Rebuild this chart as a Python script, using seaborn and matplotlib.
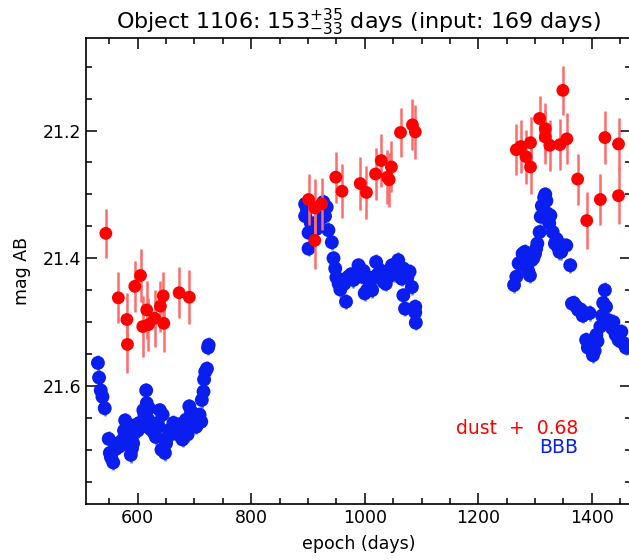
import numpy as np
import pandas as pd
import matplotlib
matplotlib.use("Agg")
import matplotlib.pyplot as plt
import seaborn as sns
from matplotlib.ticker import MultipleLocator

# ---------------- data ----------------
dust_epoch = [544, 566, 581, 582, 595, 605, 609, 616, 619, 630, 640, 645, 646, 673, 691,
              901, 912, 924, 912, 949, 960, 992, 1003, 1019, 1029, 1040, 1047, 1043, 1063, 1084, 1089,
              1267, 1275, 1284, 1292, 1292, 1308, 1318, 1318, 1326, 1344, 1356, 1349, 1375, 1391,
              1415, 1423, 1447, 1447]
dust_mag = [21.361, 21.462, 21.496, 21.535, 21.444, 21.427, 21.507, 21.481, 21.504, 21.494,
            21.475, 21.459, 21.502, 21.454, 21.461,
            21.308, 21.321, 21.315, 21.372, 21.273, 21.295, 21.283, 21.297, 21.268, 21.247,
            21.273, 21.257, 21.277, 21.203, 21.191, 21.202,
            21.230, 21.225, 21.241, 21.219, 21.257, 21.181, 21.197, 21.210, 21.223, 21.222,
            21.213, 21.137, 21.276, 21.341, 21.308, 21.211, 21.221, 21.302]
dust_err = [0.038, 0.040, 0.042, 0.045, 0.040, 0.042, 0.048, 0.045, 0.042, 0.045,
            0.040, 0.038, 0.045, 0.040, 0.042,
            0.040, 0.045, 0.040, 0.045, 0.040, 0.042, 0.042, 0.042, 0.040, 0.042,
            0.042, 0.040, 0.042, 0.038, 0.040, 0.042,
            0.040, 0.042, 0.042, 0.040, 0.042, 0.035, 0.040, 0.042, 0.040, 0.040,
            0.040, 0.038, 0.040, 0.045, 0.040, 0.042, 0.040, 0.045]

bbb_epoch = [530, 532, 535, 538, 542, 549, 551, 557, 559, 565, 568, 574, 576, 578, 583,
             585, 588, 592, 594, 597, 600, 603, 607, 610, 615, 616, 620, 625, 629, 632,
             635, 639, 644, 648, 650, 656, 660, 663, 668, 671, 675, 679, 683, 685, 691,
             696, 698, 703, 705, 712, 713, 716, 717, 719, 722, 724, 725,
             553, 562, 571, 580, 590, 605, 612, 618, 623, 637, 642, 653, 666, 677, 688, 694, 700, 709,
             895, 895, 901, 901, 915, 927, 930, 936, 942, 945, 948, 950, 954, 957, 960,
             967, 971, 980, 985, 989, 995, 998, 1000, 1004, 1009, 1013, 1015, 1020, 1024,
             1030, 1033, 1037, 1042, 1048, 1052, 1059, 1062, 1068, 1068, 1071, 1075, 1079,
             1083, 1089, 1089, 1090,
             898, 905, 920, 933, 964, 976, 992, 1006, 1027, 1045, 1056, 1065,
             1263, 1267, 1271, 1275, 1278, 1282, 1285, 1288, 1291, 1294, 1297, 1300, 1304,
             1308, 1310, 1314, 1316, 1318, 1320, 1322, 1327, 1331, 1335, 1338, 1343, 1346,
             1350, 1355, 1362, 1365, 1368, 1372, 1376, 1380, 1384, 1388, 1390, 1396, 1397,
             1402, 1405, 1410, 1415, 1418, 1423, 1425, 1429, 1433, 1438, 1442, 1447, 1450,
             1456, 1460,
             1280, 1302, 1312, 1325, 1340, 1393, 1408, 1420, 1436, 1452]
bbb_mag = [21.564, 21.587, 21.607, 21.617, 21.635, 21.683, 21.705, 21.720, 21.700, 21.690,
           21.695, 21.684, 21.670, 21.654, 21.660, 21.679, 21.708, 21.690, 21.674, 21.661,
           21.670, 21.658, 21.658, 21.638, 21.607, 21.627, 21.635, 21.660, 21.674, 21.680,
           21.658, 21.638, 21.645, 21.705, 21.690, 21.669, 21.670, 21.658, 21.675, 21.669,
           21.660, 21.684, 21.670, 21.653, 21.632, 21.648, 21.660, 21.664, 21.650, 21.656,
           21.622, 21.609, 21.590, 21.578, 21.573, 21.540, 21.536,
           21.712, 21.698, 21.688, 21.672, 21.698, 21.665, 21.645, 21.652, 21.668, 21.664,
           21.700, 21.680, 21.662, 21.672, 21.676, 21.640, 21.655, 21.645,
           21.315, 21.334, 21.360, 21.385, 21.354, 21.312, 21.334, 21.356, 21.375, 21.400,
           21.416, 21.430, 21.440, 21.449, 21.435, 21.468, 21.429, 21.434, 21.430, 21.411,
           21.429, 21.420, 21.455, 21.450, 21.440, 21.450, 21.430, 21.406, 21.424, 21.420,
           21.437, 21.440, 21.429, 21.411, 21.425, 21.403, 21.420, 21.416, 21.458, 21.479,
           21.430, 21.421, 21.445, 21.476, 21.485, 21.501,
           21.322, 21.345, 21.340, 21.320, 21.440, 21.425, 21.418, 21.432, 21.428, 21.418,
           21.408, 21.432,
           21.442, 21.429, 21.408, 21.410, 21.393, 21.390, 21.408, 21.420, 21.427, 21.403,
           21.400, 21.393, 21.377, 21.359, 21.335, 21.320, 21.305, 21.300, 21.310, 21.330,
           21.333, 21.359, 21.377, 21.370, 21.390, 21.390, 21.380, 21.380, 21.411, 21.471,
           21.470, 21.475, 21.481, 21.480, 21.490, 21.486, 21.528, 21.486, 21.533, 21.552,
           21.545, 21.530, 21.507, 21.490, 21.450, 21.476, 21.497, 21.500, 21.500, 21.520,
           21.528, 21.530, 21.533, 21.540,
           21.400, 21.385, 21.318, 21.345, 21.382, 21.540, 21.520, 21.470, 21.510, 21.515]
bbb_err = [0.012] * len(bbb_mag)

dust = pd.DataFrame({"epoch": dust_epoch, "mag": dust_mag, "err": dust_err})
bbb = pd.DataFrame({"epoch": bbb_epoch, "mag": bbb_mag, "err": bbb_err})

# ---------------- plot ----------------
sns.set_style("ticks")
plt.rcParams["font.family"] = ["DejaVu Sans"]
for k in ["text.color", "axes.labelcolor", "xtick.color", "ytick.color"]:
    plt.rcParams[k] = "black"

fig = plt.figure(figsize=(6.29, 5.6), dpi=100)
ax = fig.add_axes([86 / 629, 56 / 560, (631 - 86) / 629, (504 - 38) / 560])

ax.errorbar(bbb["epoch"], bbb["mag"], yerr=bbb["err"], fmt="none",
            ecolor="#5a78ff", elinewidth=1.8, zorder=2)
sns.scatterplot(data=bbb, x="epoch", y="mag", ax=ax, color="#0a1ef0",
                s=100, edgecolor="none", zorder=3, legend=False)
ax.errorbar(dust["epoch"], dust["mag"], yerr=dust["err"], fmt="none",
            ecolor="#ff6a6a", elinewidth=1.8, zorder=4)
sns.scatterplot(data=dust, x="epoch", y="mag", ax=ax, color="#ff0000",
                s=85, edgecolor="none", zorder=5, legend=False)

ax.set_xlim(509, 1469)
ax.set_ylim(21.785, 21.055)
ax.xaxis.set_major_locator(MultipleLocator(200))
ax.xaxis.set_minor_locator(MultipleLocator(50))
ax.set_yticks([21.2, 21.4, 21.6])
ax.yaxis.set_minor_locator(MultipleLocator(0.05))
ax.tick_params(which="both", direction="in", top=True, right=True, color="black",
               labelsize=12.5, width=1.1)
ax.tick_params(which="major", length=8)
ax.tick_params(which="minor", length=4.5)
for sp in ax.spines.values():
    sp.set_linewidth(1.2)
    sp.set_color("black")

ax.set_xlabel("epoch (days)", fontsize=12.5, labelpad=6)
ax.set_ylabel("mag AB", fontsize=12.5, labelpad=8)
ax.set_title(r"Object 1106: 153$^{+35}_{-33}$ days (input: 169 days)", fontsize=16, pad=6)

ax.text(0.903, 0.163, "dust  +  0.68", color="#ff0000", fontsize=13.5,
        ha="right", va="center", transform=ax.transAxes)
ax.text(0.903, 0.122, "BBB", color="#0a1ef0", fontsize=13.5,
        ha="right", va="center", transform=ax.transAxes)

fig.savefig("out.png", dpi=100)
